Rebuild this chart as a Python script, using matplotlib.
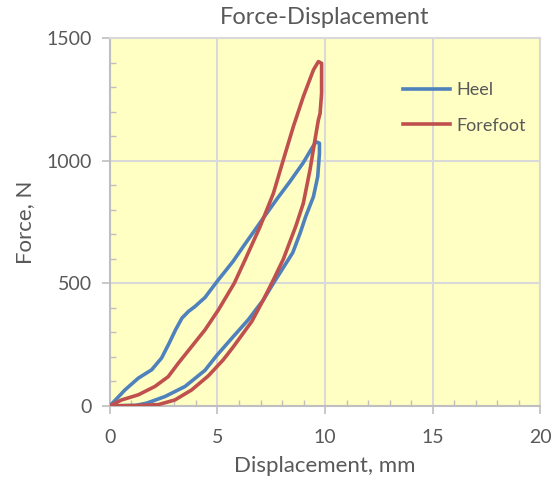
import numpy as np
import matplotlib.pyplot as plt

plt.rcParams['font.family'] = ['Lato', 'DejaVu Sans']

# 足跟 (Heel) 加载-卸载回线
heel_disp = [0, 0.70, 1.32, 1.94, 2.40, 2.75, 3.05, 3.35, 3.65, 3.95, 4.42, 4.96, 5.73, 6.20,
             6.74, 7.10, 7.75, 8.37, 8.99, 9.38, 9.58, 9.74, 9.74, 9.66, 9.46, 9.10, 8.84,
             8.50, 7.60, 7.13, 6.43, 5.73, 4.96, 4.42, 3.49, 2.56, 1.71, 1.2, 0]
heel_force = [0, 65, 113, 147, 195, 255, 310, 358, 385, 405, 442, 505, 590, 650,
              717, 762, 842, 915, 992, 1050, 1077, 1071, 1030, 935, 853, 772, 704,
              625, 500, 432, 351, 282, 205, 145, 79, 38, 11, 2, 0]

# 前足 (Forefoot) 加载-卸载回线
fore_disp = [0, 0.54, 1.32, 2.09, 2.71, 3.18, 3.80, 4.42, 5.04, 5.78, 6.28, 6.98, 7.60, 8.06,
             8.53, 8.99, 9.46, 9.69, 9.84, 9.84, 9.77, 9.69, 9.53, 9.30, 8.99, 8.65, 8.06,
             7.60, 7.13, 6.60, 5.73, 5.27, 4.57, 3.80, 3.02, 2.25, 1.2, 0]
fore_force = [0, 24, 45, 79, 119, 174, 242, 310, 391, 500, 595, 731, 867, 1003,
              1140, 1261, 1370, 1404, 1397, 1275, 1193, 1166, 1084, 962, 826, 735, 598,
              514, 432, 345, 240, 188, 122, 65, 24, 5, 1, 0]

fig = plt.figure(figsize=(5.58, 4.82), dpi=100)
ax = fig.add_axes([0.197, 0.158, 0.771, 0.763])
ax.set_facecolor('#FFFFC4')

ax.plot(heel_disp, heel_force, color='#4F81BD', lw=2.6, label='Heel', solid_joinstyle='round', zorder=3)
ax.plot(fore_disp, fore_force, color='#C0504D', lw=2.6, label='Forefoot', solid_joinstyle='round', zorder=3)

ax.set_xlim(0, 20)
ax.set_ylim(0, 1500)
ax.set_xticks(np.arange(0, 21, 5))
ax.set_yticks(np.arange(0, 1501, 500))
ax.set_xticks(np.arange(0, 21, 1), minor=True)
ax.set_yticks(np.arange(0, 1501, 100), minor=True)

txt = '#595959'
ax.grid(True, which='major', color='#D9D9D9', lw=1.5, zorder=1)
for s in ['top', 'right']:
    ax.spines[s].set_color('#D9D9D9')
    ax.spines[s].set_linewidth(1.5)
for s in ['left', 'bottom']:
    ax.spines[s].set_color('#BFBFBF')
    ax.spines[s].set_linewidth(1.5)

ax.tick_params(which='major', direction='out', length=6, width=1.2, color='#BFBFBF',
               labelsize=14, labelcolor=txt, pad=7)
ax.tick_params(axis='x', which='major', pad=11)
ax.tick_params(which='minor', direction='in', length=4, width=1.0, color='#BFBFBF')

ax.set_title('Force-Displacement', fontsize=17, color=txt, pad=10)
ax.set_xlabel('Displacement, mm', fontsize=16, color=txt, labelpad=7)
ax.set_ylabel('Force, N', fontsize=16, color=txt, labelpad=8)

leg = ax.legend(loc='upper right', bbox_to_anchor=(1.005, 0.925), frameon=False, fontsize=13,
                labelcolor=txt, handlelength=2.6, labelspacing=1.1, handletextpad=0.35)

fig.savefig('out.png', dpi=100)
